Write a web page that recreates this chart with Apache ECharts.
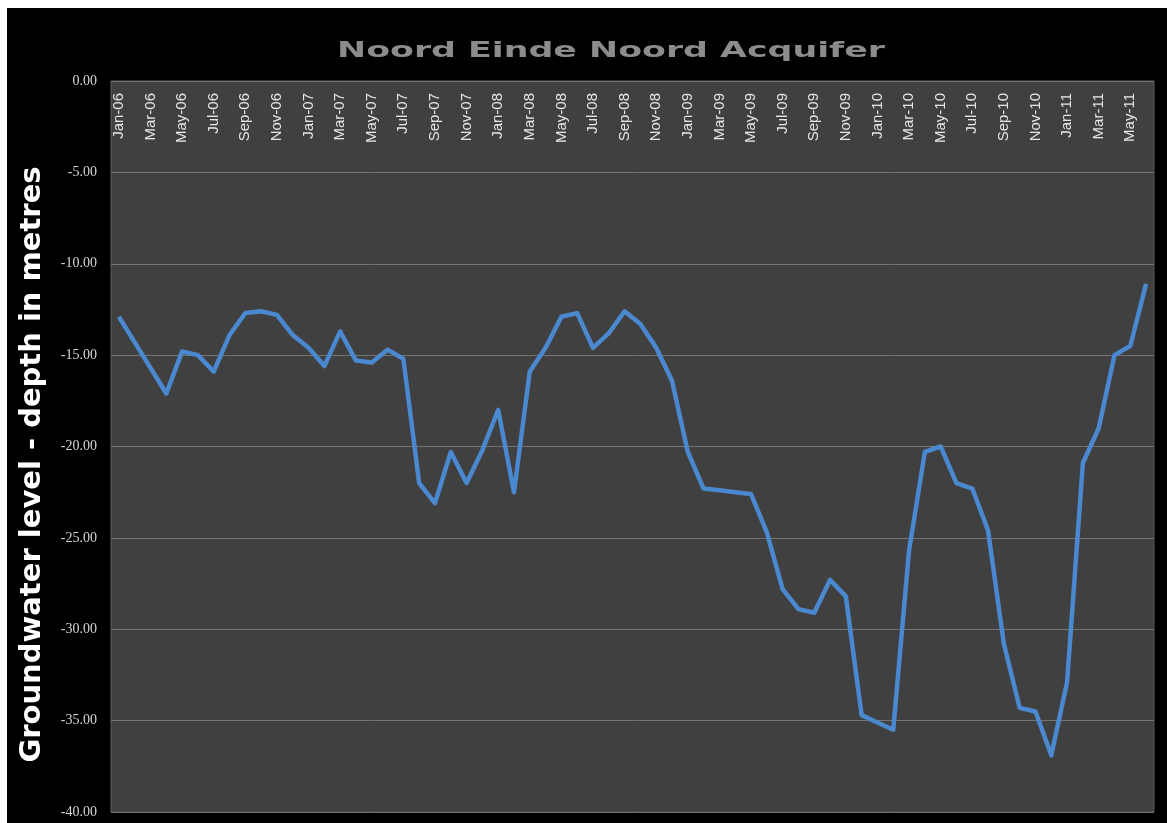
<!DOCTYPE html>
<html>
<head>
<meta charset="utf-8">
<script src="https://cdn.jsdelivr.net/npm/echarts@6/dist/echarts.min.js"></script>
<style>
  html, body { margin: 0; padding: 0; background: #fff; }
  #chart { position: absolute; left: 7px; top: 8px; width: 1160px; height: 815px; background: #000; }
</style>
</head>
<body>
<div id="chart"></div>
<script>
// months Jan-06 .. Jun-11
const months = [
  "Jan-06","Feb-06","Mar-06","Apr-06","May-06","Jun-06","Jul-06","Aug-06","Sep-06","Oct-06","Nov-06","Dec-06",
  "Jan-07","Feb-07","Mar-07","Apr-07","May-07","Jun-07","Jul-07","Aug-07","Sep-07","Oct-07","Nov-07","Dec-07",
  "Jan-08","Feb-08","Mar-08","Apr-08","May-08","Jun-08","Jul-08","Aug-08","Sep-08","Oct-08","Nov-08","Dec-08",
  "Jan-09","Feb-09","Mar-09","Apr-09","May-09","Jun-09","Jul-09","Aug-09","Sep-09","Oct-09","Nov-09","Dec-09",
  "Jan-10","Feb-10","Mar-10","Apr-10","May-10","Jun-10","Jul-10","Aug-10","Sep-10","Oct-10","Nov-10","Dec-10",
  "Jan-11","Feb-11","Mar-11","Apr-11","May-11","Jun-11"
];

// groundwater depth (m)
const depth = [
  -12.9, -14.3, -15.7, -17.1, -14.8, -15.0, -15.9, -13.9, -12.7, -12.6, -12.8, -13.9,
  -14.6, -15.6, -13.7, -15.3, -15.4, -14.7, -15.2, -22.0, -23.1, -20.3, -22.0, -20.2,
  -18.0, -22.5, -15.9, -14.6, -12.9, -12.7, -14.6, -13.8, -12.6, -13.3, -14.6, -16.4,
  -20.3, -22.3, -22.4, -22.5, -22.6, -24.7, -27.8, -28.9, -29.1, -27.3, -28.2, -34.7,
  -35.1, -35.5, -25.7, -20.3, -20.0, -22.0, -22.3, -24.6, -30.8, -34.3, -34.5, -36.9,
  -32.9, -20.9, -19.0, -15.0, -14.5, -11.1
];

const chart = echarts.init(document.getElementById("chart"));
chart.setOption({
  backgroundColor: "#000",
  animation: false,
  graphic: [{
    type: "text",
    x: 604, y: 43,
    scaleX: 1.58,
    style: {
      text: "Noord Einde Noord Acquifer",
      font: "bold 22px 'DejaVu Sans'",
      fill: "#8c8c8c",
      textAlign: "center",
      textVerticalAlign: "middle"
    }
  }],
  grid: {
    left: 104, right: 13, top: 73, bottom: 11,
    show: true, backgroundColor: "#404040", borderColor: "#5c5c5c", borderWidth: 1
  },
  xAxis: {
    type: "category",
    position: "top",
    data: months,
    boundaryGap: true,
    axisLine: { show: false },
    axisTick: { show: false },
    axisLabel: {
      inside: true, rotate: 90, interval: 1, margin: 12,
      align: "right", verticalAlign: "middle",
      color: "#e6e6e6", fontFamily: "Liberation Sans", fontSize: 15
    }
  },
  yAxis: {
    type: "value",
    min: -40, max: 0, interval: 5,
    name: "Groundwater level - depth in metres",
    nameLocation: "middle",
    nameGap: 64,
    nameTextStyle: {
      color: "#fff", fontFamily: "DejaVu Sans", fontWeight: "bold", fontSize: 29,
      padding: [0, 36, 0, 0]
    },
    axisLine: { show: false },
    axisTick: { show: false },
    axisLabel: {
      formatter: (v) => v.toFixed(2),
      color: "#d4d4d4", fontFamily: "Liberation Serif", fontSize: 14, margin: 14
    },
    splitLine: { lineStyle: { color: "#747474", width: 1 } }
  },
  series: [{
    type: "line",
    data: depth,
    showSymbol: false,
    lineStyle: { color: "#4a88cf", width: 4.5, join: "round" },
    itemStyle: { color: "#4a88cf" }
  }]
});
</script>
</body>
</html>
